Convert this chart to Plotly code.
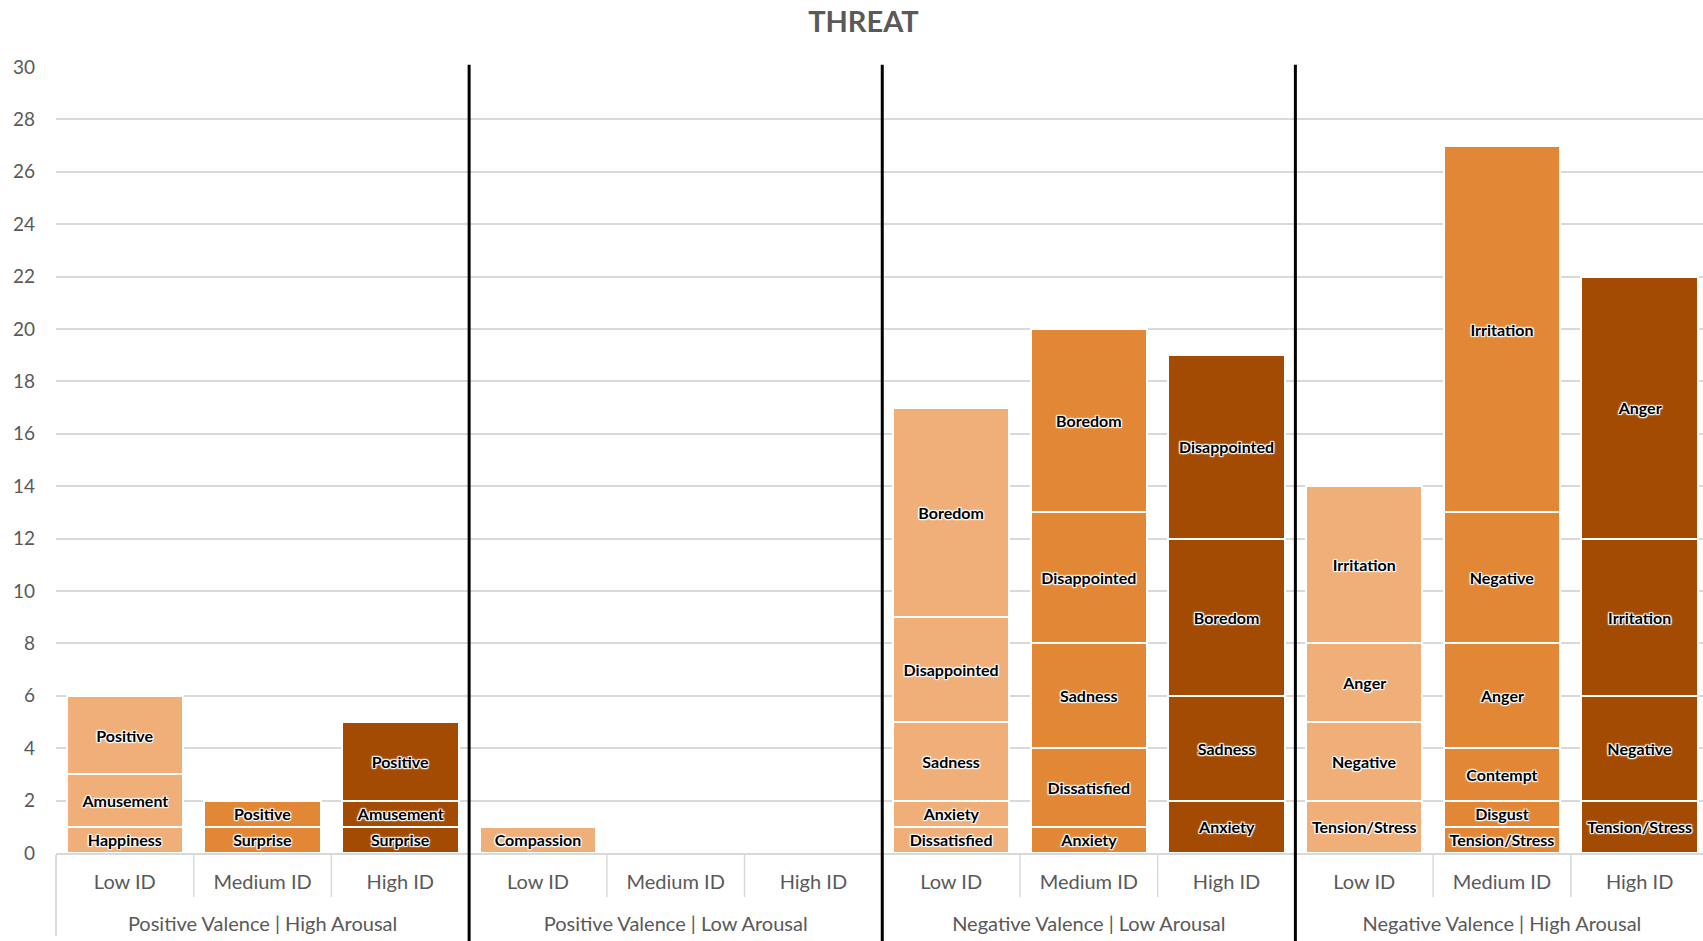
import plotly.graph_objects as go

# Category structure
groups = [
    "Positive Valence | High Arousal",
    "Positive Valence | Low Arousal",
    "Negative Valence | Low Arousal",
    "Negative Valence | High Arousal",
]
id_levels = ["Low ID", "Medium ID", "High ID"]
id_colors = ["#F0AE78", "#E28735", "#A34B03"]

# Emotion segments per bar, listed bottom to top
segment_labels = [
    ["Happiness", "Amusement", "Positive"],
    ["Surprise", "Positive"],
    ["Surprise", "Amusement", "Positive"],
    ["Compassion"],
    [],
    [],
    ["Dissatisfied", "Anxiety", "Sadness", "Disappointed", "Boredom"],
    ["Anxiety", "Dissatisfied", "Sadness", "Disappointed", "Boredom"],
    ["Anxiety", "Sadness", "Boredom", "Disappointed"],
    ["Tension/Stress", "Negative", "Anger", "Irritation"],
    ["Tension/Stress", "Disgust", "Contempt", "Anger", "Negative", "Irritation"],
    ["Tension/Stress", "Negative", "Irritation", "Anger"],
]
segment_values = [
    [1, 2, 3],
    [1, 1],
    [1, 1, 3],
    [1],
    [],
    [],
    [1, 1, 3, 4, 8],
    [1, 3, 4, 5, 7],
    [2, 4, 6, 7],
    [2, 3, 3, 6],
    [1, 1, 2, 4, 5, 14],
    [2, 4, 6, 10],
]
y_ticks = list(range(0, 31, 2))

FONT = "Lato, 'Open Sans', sans-serif"
GREY = "#595959"
LIGHT = "#D9D9D9"
GLOW = ("1px 1px 1px white, -1px -1px 1px white, 1px -1px 1px white, "
        "-1px 1px 1px white, 0 0 3px white")

# outer level gets a leading blank line so it sits lower under the ID labels
x_outer = ["<br>" + g for g in groups for _ in id_levels]
x_inner = [lvl for _ in groups for lvl in id_levels]
bar_colors = [id_colors[i % len(id_levels)] for i in range(len(x_inner))]
n_bars = len(x_inner)

fig = go.Figure()
depth = max(len(v) for v in segment_values)
for k in range(depth):
    ys = [vals[k] if k < len(vals) else None for vals in segment_values]
    txt = [labs[k] if k < len(labs) else "" for labs in segment_labels]
    fig.add_trace(go.Bar(
        x=[x_outer, x_inner],
        y=ys,
        text=txt,
        textposition="inside",
        insidetextanchor="middle",
        textangle=0,
        constraintext="none",
        textfont=dict(family=FONT, size=16, color="black", weight="bold",
                      shadow=GLOW),
        marker=dict(color=bar_colors, line=dict(color="white", width=2)),
        showlegend=False,
        hoverinfo="skip",
    ))

# x range trimmed slightly on the right so the last column meets the edge
x_range = [-0.5, n_bars - 0.54]
span = x_range[1] - x_range[0]


def to_paper(xv):
    return (xv - x_range[0]) / span


shapes = []
# short grey separators between ID levels inside each group
for i in range(n_bars - 1):
    b = i + 0.5
    if (i + 1) % len(id_levels) != 0:
        shapes.append(dict(type="line", xref="paper", yref="paper",
                           x0=to_paper(b), x1=to_paper(b), y0=0, y1=-0.056,
                           line=dict(color=LIGHT, width=1.5)))
# heavy black separators between valence/arousal groups
for gi in range(1, len(groups)):
    b = gi * len(id_levels) - 0.5
    shapes.append(dict(type="line", xref="paper", yref="paper",
                       x0=to_paper(b), x1=to_paper(b), y0=-0.12, y1=1.003,
                       line=dict(color="black", width=3)))

fig.update_layout(
    barmode="stack",
    bargap=0.154,
    width=1703,
    height=941,
    margin=dict(l=56, r=0, t=67, b=88),
    paper_bgcolor="white",
    plot_bgcolor="white",
    font=dict(family=FONT, color=GREY),
    title=dict(text="<b>THREAT</b>", font=dict(family=FONT, size=29, color=GREY),
               x=0.507, xref="container", xanchor="center",
               y=0.977, yref="container", yanchor="middle"),
    uniformtext=dict(minsize=16, mode="show"),
    shapes=shapes,
    xaxis=dict(
        type="multicategory",
        range=x_range,
        showgrid=False,
        showline=True, linecolor=LIGHT, linewidth=1.5,
        ticks="",
        ticklabelstandoff=10,
        showdividers=True, dividercolor=LIGHT, dividerwidth=1.5,
        tickfont=dict(family=FONT, size=20, color=GREY),
        zeroline=False,
    ),
    yaxis=dict(
        range=[0, 30],
        tickvals=y_ticks,
        showgrid=True, gridcolor=LIGHT, gridwidth=1.5,
        zeroline=False,
        showline=False,
        ticks="",
        tickfont=dict(family=FONT, size=19, color=GREY),
        ticklabelstandoff=20,
    ),
)

fig.write_html("out.html")
